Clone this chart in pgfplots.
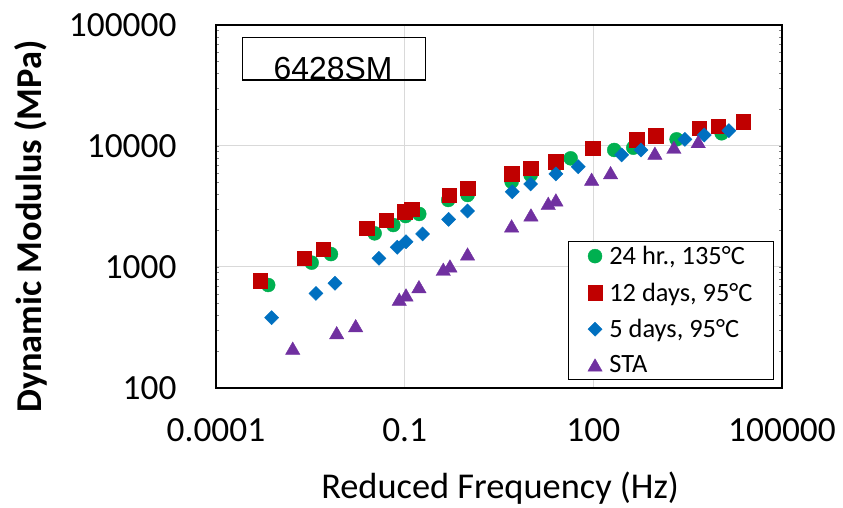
\documentclass[border=0pt]{standalone}
\usepackage{fontspec}
\setmainfont{Carlito}
\newfontfamily\arialfont{Liberation Sans}
\usepackage{pgfplots}
\pgfplotsset{compat=1.18}
\definecolor{cgreen}{HTML}{00B050}
\definecolor{cred}{HTML}{C00000}
\definecolor{cblue}{HTML}{0070C0}
\definecolor{cpurple}{HTML}{7030A0}
\definecolor{gridgray}{HTML}{D9D9D9}
\begin{document}
\begin{tikzpicture}
\useasboundingbox (-216bp,-120bp) rectangle (627bp,388bp);
\begin{axis}[
  at={(0,0)}, anchor=south west,
  scale only axis, width=566bp, height=363bp,
  xmode=log, ymode=log,
  xmin=1e-4, xmax=1e5, ymin=100, ymax=1e5,
  xtick={1e-4,1e-1,1e2,1e5}, xticklabels={0.0001,0.1,100,100000},
  ytick={100,1000,10000,100000}, yticklabels={100,1000,10000,100000},
  minor xtick={}, minor ytick={},
  major tick length=0pt,
  grid=major, major grid style={color=gridgray, line width=1bp},
  axis line style={line width=1.3bp},
  /pgf/number format/assume math mode=true,
  tick label style={font=\fontsize{35.5}{40}\selectfont},
  xticklabel style={yshift=-27bp},
  yticklabel style={xshift=-36bp},
  xlabel={Reduced Frequency (Hz)},
  ylabel={\bfseries Dynamic Modulus (MPa)},
  label style={font=\fontsize{36.5}{40}\selectfont},
  xlabel style={at={(axis description cs:0.502,-0.275)}, anchor=center},
  ylabel style={at={(axis description cs:-0.327,0.444)}, anchor=center},
  legend cell align=left,
  legend style={at={(axis description cs:0.986,0.022)}, anchor=south east,
    draw=black, line width=1.2bp, font=\fontsize{26.5}{30}\selectfont,
    row sep=12.7bp, column sep=5bp, inner xsep=19bp, inner ysep=3bp,
    nodes={inner sep=2bp}},
]
\addplot[only marks, color=cgreen, mark=*, mark size=7bp, mark options={line width=0.4bp, fill=cgreen}] coordinates {
(6.76e-4,710) (3.32e-3,1086) (6.73e-3,1279) (0.0333,1897) (0.0659,2223) (0.1035,2636) (0.1706,2742) (0.493,3581) (1.0,3936) (5.02,5070) (10.07,5754) (25.4,6966) (43.6,7907) (215,9268) (432,9683) (2109,11350) (10965,12735)
};
\addlegendentry{24 hr., 135°C}
\addplot[only marks, color=cred, mark=square*, mark size=7.3bp, mark options={line width=0.4bp, fill=cred}] coordinates {
(5.01e-4,771) (2.54e-3,1180) (5.08e-3,1400) (0.0249,2089) (0.0505,2443) (0.1012,2864) (0.129,3000) (0.512,3936) (1.0,4467) (5.02,5875) (10.07,6546) (25.4,7413) (97.5,9572) (488,11220) (977,12106) (4831,13996) (9683,14622) (24155,15888)
};
\addlegendentry{12 days, 95°C}
\addplot[only marks, color=cblue, mark=square*, mark size=5bp, mark options={line width=0.4bp, fill=cblue, rotate=45}] coordinates {
(7.67e-4,381) (3.89e-3,605) (7.80e-3,733) (0.0390,1180) (0.0762,1455) (0.105,1618) (0.193,1875) (0.500,2477) (1.0,2904) (5.14,4188) (10.07,4853) (25.4,5875) (57.5,6745) (282,8433) (571,9268) (2858,11350) (5794,12331) (14322,13397)
};
\addlegendentry{5 days, 95°C}
\addplot[only marks, color=cpurple, mark=triangle*, mark size=8.3bp, mark options={line width=0.4bp, fill=cpurple, yshift=-2bp}] coordinates {
(1.66e-3,213) (8.30e-3,286) (0.01663,327) (0.0820,541) (0.105,587) (0.1687,687) (0.411,957) (0.525,1019) (1.0,1279) (5.02,2183) (10.19,2692) (19.19,3357) (25.4,3581) (94.0,5309) (188,6012) (953,8710) (1910,9750) (4656,10864)
};
\addlegendentry{STA}
\draw[line width=1.2bp] (axis description cs:0.0472,0.8485) rectangle (axis description cs:0.3698,0.9661);
\node[anchor=base, inner sep=0pt, font=\arialfont\fontsize{32}{36}\selectfont] at (axis description cs:0.2067,0.8512) {6428SM};
\end{axis}
\end{tikzpicture}
\end{document}
